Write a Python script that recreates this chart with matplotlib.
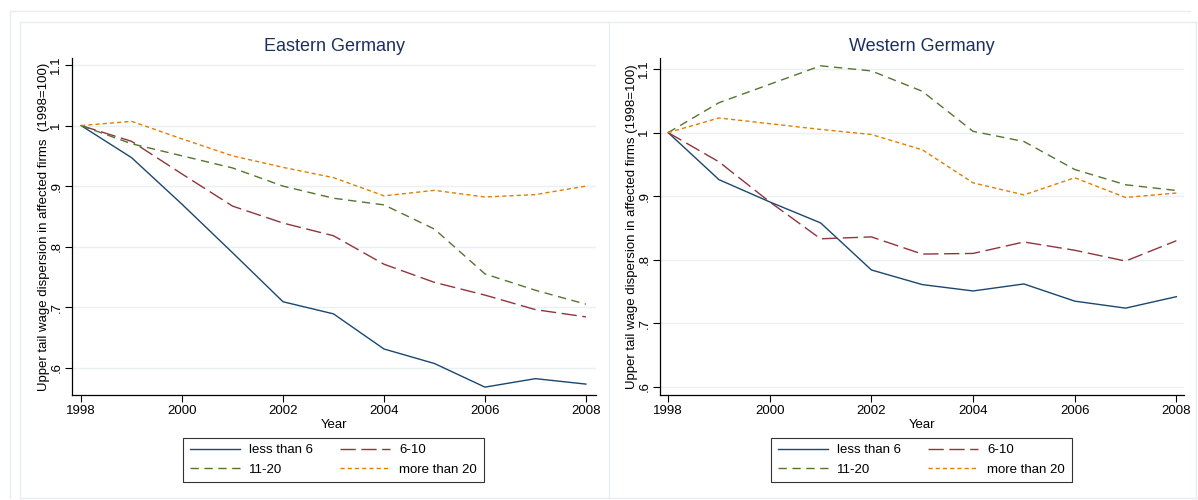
import matplotlib
matplotlib.use("Agg")
import matplotlib.pyplot as plt
from matplotlib.lines import Line2D

plt.rcParams["font.family"] = ["Liberation Sans", "DejaVu Sans"]

years = list(range(1998, 2009))
groups = ["less than 6", "6-10", "11-20", "more than 20"]

east_lt6 = [1.0, 0.947, 0.870, 0.790, 0.709, 0.689, 0.631, 0.607, 0.568, 0.582, 0.573]
east_6_10 = [1.0, 0.974, 0.920, 0.867, 0.839, 0.818, 0.771, 0.741, 0.720, 0.696, 0.684]
east_11_20 = [1.0, 0.970, 0.950, 0.930, 0.900, 0.880, 0.869, 0.829, 0.755, 0.728, 0.705]
east_gt20 = [1.0, 1.007, 0.978, 0.950, 0.931, 0.914, 0.884, 0.893, 0.882, 0.886, 0.900]

west_lt6 = [1.0, 0.926, 0.891, 0.858, 0.784, 0.761, 0.751, 0.762, 0.735, 0.724, 0.742]
west_6_10 = [1.0, 0.954, 0.891, 0.833, 0.836, 0.809, 0.810, 0.828, 0.815, 0.798, 0.830]
west_11_20 = [1.0, 1.047, 1.076, 1.105, 1.097, 1.065, 1.002, 0.986, 0.942, 0.918, 0.909]
west_gt20 = [1.0, 1.023, 1.014, 1.005, 0.997, 0.973, 0.921, 0.902, 0.929, 0.898, 0.905]

yticks = [0.6, 0.7, 0.8, 0.9, 1.0, 1.1]
ytick_labels = [".6", ".7", ".8", ".9", "1", "1.1"]
xticks = [1998, 2000, 2002, 2004, 2006, 2008]

colors = ["#1a476f", "#90353b", "#55752f", "#e37e00"]
dashes = ["-", (0, (11, 4)), (0, (6, 4)), (0, (3, 2.2))]
title_color = "#1c2f5e"
frame_color = "#e6eef0"
grid_color = "#e8f0f2"

W, H = 1198, 500
fig = plt.figure(figsize=(W / 100, H / 100), dpi=100)


def px_axes(left, right, top, bottom):
    return fig.add_axes([left / W, 1 - bottom / H, (right - left) / W, (bottom - top) / H])


# graph frames
fig.add_artist(Line2D([10 / W, 1190 / W], [1 - 11 / H, 1 - 11 / H], color=frame_color, lw=1))
fig.add_artist(Line2D([10 / W, 10 / W], [1 - 11 / H, 1 - 498 / H], color=frame_color, lw=1))
fig.add_artist(Line2D([20 / W, 1196 / W], [1 - 22 / H, 1 - 22 / H], color=frame_color, lw=1))
fig.add_artist(Line2D([20 / W, 1196 / W], [1 - 498 / H, 1 - 498 / H], color=frame_color, lw=1))
for xp in (20, 609, 1196):
    fig.add_artist(Line2D([xp / W, xp / W], [1 - 22 / H, 1 - 498 / H], color=frame_color, lw=1))

panels = [
    ("Eastern Germany", (72, 596), (0.555, 1.1116), (1997.82, 2008.2),
     [east_lt6, east_6_10, east_11_20, east_gt20],
     "Upper tail wage dispersion in affected firms  (1998=100)", (184, 483)),
    ("Western Germany", (660, 1184), (0.5874, 1.1173), (1997.84, 2008.15),
     [west_lt6, west_6_10, west_11_20, west_gt20],
     "Upper tail wage dispersion in affected firms (1998=100)", (772, 1071)),
]

for title, (xl, xr), ylim, xlim, series, ylabel, (lgl, lgr) in panels:
    ax = px_axes(xl, xr, 58, 395)
    lines = []
    for vals, c, ls, name in zip(series, colors, dashes, groups):
        (ln,) = ax.plot(years, vals, color=c, linestyle=ls, lw=1.0, label=name)
        lines.append(ln)
    ax.set_xlim(*xlim)
    ax.set_ylim(*ylim)
    ax.set_xticks(xticks)
    ax.set_yticks(yticks)
    ax.set_yticklabels(ytick_labels, rotation=90, va="center")
    ax.tick_params(labelsize=9.5, length=5, width=0.8, pad=2)
    ax.grid(axis="y", color=grid_color, lw=1.0)
    ax.set_axisbelow(True)
    for side in ("top", "right"):
        ax.spines[side].set_visible(False)
    for side in ("left", "bottom"):
        ax.spines[side].set_linewidth(0.9)
    ax.set_xlabel("Year", fontsize=9.5, labelpad=2)
    ax.set_ylabel(ylabel, fontsize=9.5, labelpad=0)
    ax.set_title(title, fontsize=13, color=title_color, pad=5)
    # row-wise order like the original legend
    order = [0, 2, 1, 3]
    leg = ax.legend(
        [lines[i] for i in order],
        [groups[i] for i in order],
        loc="center",
        bbox_to_anchor=((lgl + lgr) / 2 / W, 1 - 460 / H),
        bbox_transform=fig.transFigure,
        ncol=2,
        fontsize=9.5,
        frameon=True,
        fancybox=False,
        edgecolor="black",
        handlelength=3.8,
        columnspacing=2.0,
        handletextpad=0.7,
        borderpad=0.5,
        labelspacing=0.55,
    )
    leg.get_frame().set_linewidth(0.8)

fig.savefig("out.png", dpi=100, facecolor="white")
